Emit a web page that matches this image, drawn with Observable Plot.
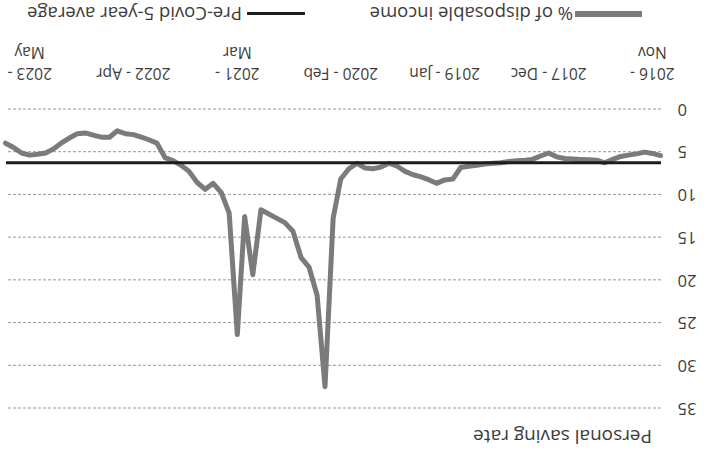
<!DOCTYPE html>
<html>
<head>
<meta charset="utf-8">
<script src="https://cdn.jsdelivr.net/npm/d3@7"></script>
<script src="https://cdn.jsdelivr.net/npm/@observablehq/plot@0.6"></script>
<style>
  html, body { margin: 0; padding: 0; background: #fff; }
  #page {
    position: absolute; left: 0; top: 0; width: 709px; height: 457px;
    transform: rotate(180deg); transform-origin: 354.5px 228.5px;
    font-family: "Open Sans", sans-serif; color: #3c3c3c; overflow: hidden; background: #fff;
  }
  #title { height: 25px; padding-top: 5px; line-height: 30px; padding-left: 57px; font-size: 19px; white-space: nowrap; }
  #chart { height: 396px; }
  #chart svg { display: block; }
  #legend { position: relative; height: 31px; font-size: 18.5px; }
  #legend .sw { position: absolute; display: block; }
  #legend .lt { position: absolute; top: 5px; line-height: 24px; white-space: nowrap; }
</style>
</head>
<body>
<div id="page">
  <div id="title">Personal saving rate</div>
  <div id="chart"></div>
  <div id="legend"></div>
</div>
<script>
// ---- data ----
const startMonth = "2016-10";
const endMonth = "2023-08";
// Personal saving rate, % of disposable income, monthly Oct 2016 – Aug 2023
const savingRate = [
  5.45, 5.2, 5.05, 5.25, 5.4, 5.55, 5.9, 6.3, 6.0, 5.95, 5.9, 5.85,   // Oct16–Sep17
  5.8, 5.6, 5.15, 5.5, 5.9, 6.0, 6.05, 6.15, 6.3, 6.35, 6.45, 6.6,    // Oct17–Sep18
  6.7, 6.85, 8.2, 8.3, 8.7, 8.3, 7.95, 7.7, 7.3, 6.7, 6.35, 6.8,      // Oct18–Sep19
  7.0, 6.9, 6.35, 7.0, 8.2, 12.8, 32.5, 21.8, 18.5, 17.4, 14.3, 13.3, // Oct19–Sep20
  12.8, 12.3, 11.8, 19.4, 12.6, 26.4, 12.2, 9.8, 8.7, 9.4, 8.6, 7.3,  // Oct20–Sep21
  6.6, 6.05, 5.7, 4.0, 3.6, 3.3, 3.0, 2.9, 2.55, 3.3, 3.3, 3.05,      // Oct21–Sep22
  2.8, 2.9, 3.4, 4.0, 4.7, 5.15, 5.3, 5.4, 5.15, 4.5, 4.0             // Oct22–Aug23
];
const preCovidAverage = 6.3;
const yTicks = [0, 5, 10, 15, 20, 25, 30, 35];
const tickMonths = ["2016-11", "2017-12", "2019-01", "2020-02", "2021-03", "2022-04", "2023-05"];
const tickLabels = ["2016 -\nNov", "2017 - Dec", "2019 - Jan", "2020 - Feb", "2021 -\nMar", "2022 - Apr", "2023 -\nMay"];
const seriesNames = ["% of disposable income", "Pre-Covid 5-year average"];
const seriesColors = ["#7b7b7b", "#1c1c1c"];

// ---- build ----
const parse = d3.utcParse("%Y-%m");
const months = d3.utcMonth.range(parse(startMonth), d3.utcMonth.offset(parse(endMonth), 1));
const rows = months.map((date, i) => ({date, value: savingRate[i]}));
const tickDates = tickMonths.map(parse);
const labelMap = new Map(tickDates.map((d, i) => [+d, tickLabels[i]]));

const chart = Plot.plot({
  width: 709,
  height: 396,
  marginLeft: 48,
  marginRight: 6,
  marginTop: 18.5,
  marginBottom: 78.5,
  style: {fontFamily: '"Open Sans", sans-serif', background: "transparent", color: "#3c3c3c"},
  x: {type: "utc", domain: [months[0], months[months.length - 1]]},
  y: {domain: [0, 35]},
  marks: [
    Plot.gridY(yTicks, {stroke: "#8c8c8c", strokeOpacity: 0.9, strokeWidth: 1, strokeDasharray: "3,2"}),
    Plot.axisY(yTicks, {tickSize: 0, tickPadding: 17, fontSize: 16.5, label: null, tickFormat: d => String(d), fill: "#3c3c3c"}),
    Plot.axisX(tickDates, {tickSize: 0, tickPadding: 26, fontSize: 15.5, lineHeight: 1.35, label: null, fill: "#3c3c3c",
      tickFormat: d => labelMap.get(+d)}),
    Plot.lineY(rows, {x: "date", y: "value", stroke: seriesColors[0], strokeWidth: 5, strokeLinejoin: "round"}),
    Plot.ruleY([preCovidAverage], {stroke: seriesColors[1], strokeWidth: 3})
  ]
});
document.getElementById("chart").appendChild(chart);

// legend
const legend = document.getElementById("legend");
const legendLayout = [
  {swLeft: 67, swWidth: 67, swHeight: 6, textLeft: 136},
  {swLeft: 404, swWidth: 58, swHeight: 3, textLeft: 467}
];
seriesNames.forEach((name, i) => {
  const L = legendLayout[i];
  const sw = document.createElement("span");
  sw.className = "sw";
  sw.style.left = L.swLeft + "px";
  sw.style.width = L.swWidth + "px";
  sw.style.height = L.swHeight + "px";
  sw.style.top = (17 - L.swHeight / 2) + "px";
  sw.style.background = seriesColors[i];
  legend.appendChild(sw);
  const t = document.createElement("span");
  t.className = "lt";
  t.style.left = L.textLeft + "px";
  t.textContent = name;
  legend.appendChild(t);
});
</script>
</body>
</html>
